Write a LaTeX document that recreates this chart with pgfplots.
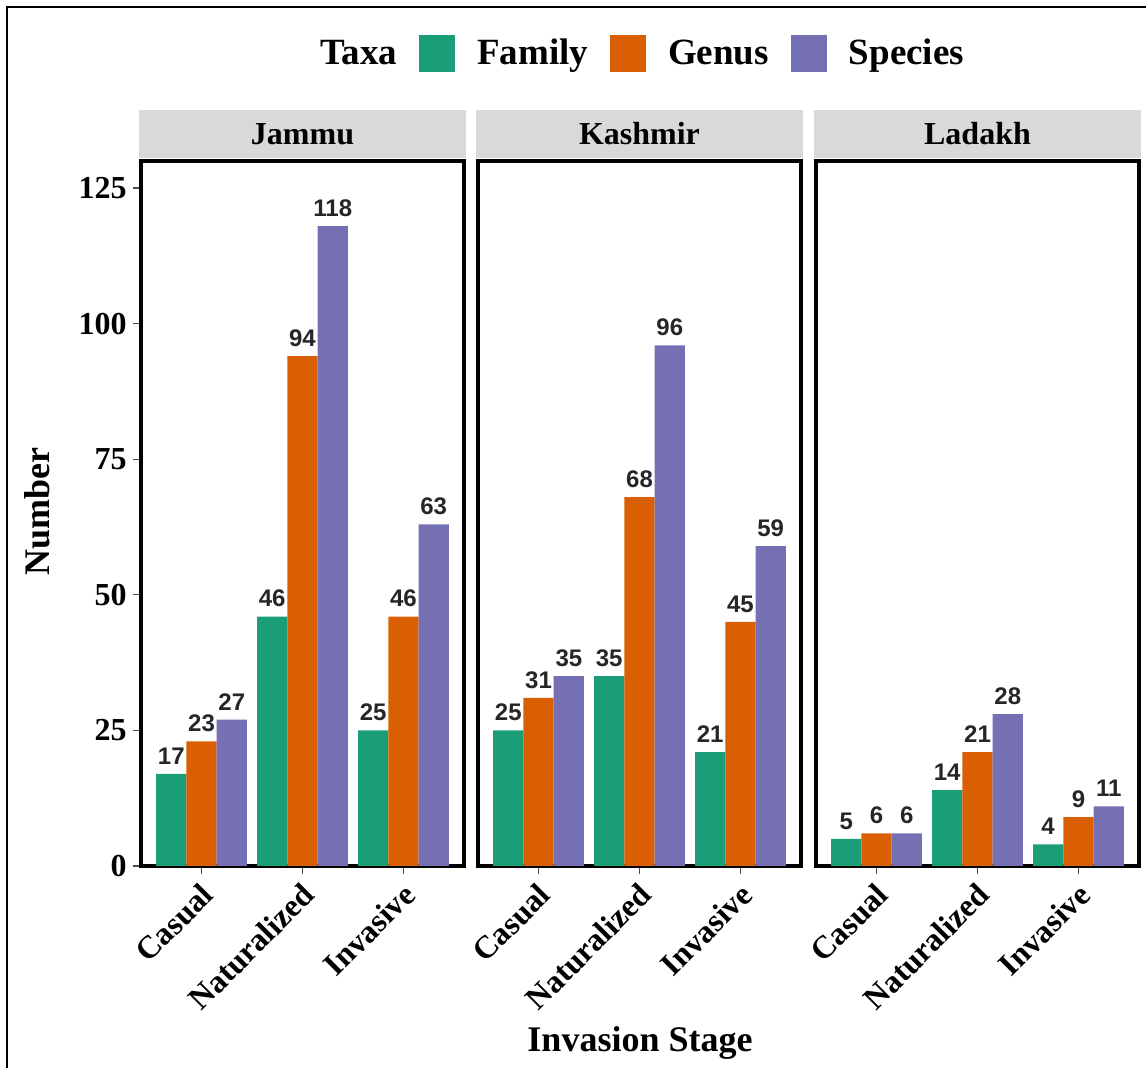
\documentclass[border=0pt]{standalone}
\usepackage{fontspec}
\setmainfont{Liberation Serif}
\newfontfamily\valfont{Liberation Sans}
\usepackage{pgfplots}
\pgfplotsset{compat=1.18}

\definecolor{cfam}{HTML}{1B9E77}
\definecolor{cgen}{HTML}{D95F02}
\definecolor{cspe}{HTML}{7570B3}
\definecolor{stripgray}{HTML}{D9D9D9}

\newcommand{\fs}[1]{\bfseries\fontsize{#1}{#1}\selectfont}

\pgfplotsset{
  panel/.style={
    scale only axis, width=161.5pt, height=352.5pt, anchor=south west,
    xmin=-0.6, xmax=2.6, ymin=0, ymax=130,
    ybar=0pt, bar width=0.3,
    xtick={0,1,2}, xticklabels={Casual,Naturalized,Invasive},
    xtick pos=bottom, ytick pos=left, tick align=outside,
    major tick length=4pt,
    tick style={black!70, line width=0.6pt},
    axis line style={line width=2pt, black},
    xticklabel style={xshift=-1pt, yshift=-3.5pt, rotate=45, anchor=north east,
      inner sep=0pt, font=\fs{16}},
    yticklabel style={anchor=east, inner sep=0pt, xshift=-3pt, font=\fs{16}},
    /pgf/number format/assume math mode=true,
    nodes near coords,
    every node near coord/.append style={font=\valfont\fs{12}, text=black!85,
      anchor=south, inner sep=0pt, yshift=4.5pt},
    legend image code/.code={\fill[#1] (0pt,-9.25pt) rectangle (18pt,9.25pt);},
    clip=false,
  },
}

\begin{document}
\begin{tikzpicture}
\useasboundingbox (0,0) rectangle (573pt,534pt);
\draw[line width=1pt] (3.5pt,0) -- (3.5pt,530.5pt) -- (573pt,530.5pt);

% Jammu
\begin{axis}[panel, name=jammu, at={(70.5pt,101pt)},
  ytick={0,25,50,75,100,125},
  legend style={at={(0.4861,1.1525)}, anchor=west, draw=none, fill=none,
    inner sep=0pt, legend columns=-1, column sep=11pt, font=\fs{18.5},
    nodes={inner sep=0pt}}]
\addlegendimage{empty legend}\addlegendentry{Taxa}
\addplot[fill=cfam, draw=none] coordinates {(0,17) (1,46) (2,25)};
\addlegendentry{Family}
\addplot[fill=cgen, draw=none] coordinates {(0,23) (1,94) (2,46)};
\addlegendentry{Genus}
\addplot[fill=cspe, draw=none] coordinates {(0,27) (1,118) (2,63)};
\addlegendentry{Species}
\end{axis}

% Kashmir
\begin{axis}[panel, name=kashmir, at={(239pt,101pt)}, ytick=\empty]
\addplot[fill=cfam, draw=none] coordinates {(0,25) (1,35) (2,21)};
\addplot[fill=cgen, draw=none] coordinates {(0,31) (1,68) (2,45)};
\addplot[fill=cspe, draw=none] coordinates {(0,35) (1,96) (2,59)};
\end{axis}

% Ladakh
\begin{axis}[panel, name=ladakh, at={(408pt,101pt)}, ytick=\empty]
\addplot[fill=cfam, draw=none] coordinates {(0,5) (1,14) (2,4)};
\addplot[fill=cgen, draw=none] coordinates {(0,6) (1,21) (2,9)};
\addplot[fill=cspe, draw=none] coordinates {(0,6) (1,28) (2,11)};
\end{axis}

% facet strips
\foreach \p/\t in {jammu/Jammu, kashmir/Kashmir, ladakh/Ladakh}{
  \fill[stripgray] ([shift={(-1pt,1.5pt)}]\p.north west) rectangle ([shift={(1pt,25.5pt)}]\p.north east);
  \node[font=\fs{16}] at ([yshift=13.5pt]\p.north) {\t};
}

% axis titles
\node[rotate=90, font=\fs{18}] at (18.5pt,278pt) {Number};
\node[anchor=base, font=\fs{18}] at (320pt,8pt) {Invasion Stage};
\end{tikzpicture}
\end{document}
